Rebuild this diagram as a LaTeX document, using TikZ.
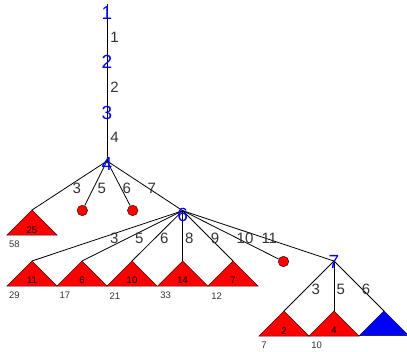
\documentclass[tikz,border=0pt]{standalone}
\usepackage{fontspec}
\setmainfont{Liberation Sans}
\begin{document}
\begin{tikzpicture}[x=1pt,y=-1pt,
  edge/.style={draw=black,line width=0.8pt},
  nlab/.style={text=blue,font=\fontsize{19}{19}\selectfont,inner sep=0pt},
  elab/.style={text=black!80,font=\fontsize{15}{15}\selectfont,inner sep=0pt},
  tlab/.style={text=black,font=\fontsize{9.5}{9.5}\selectfont,inner sep=0pt},
  blab/.style={text=black!80,font=\fontsize{9.5}{9.5}\selectfont,inner sep=0pt},
  redtri/.style={fill=red,draw=black!70!red,line width=0.5pt},
  bluetri/.style={fill=blue,draw=black!70!blue,line width=0.5pt},
  leaf/.style={circle,fill=red,draw=black!70!red,line width=0.5pt,minimum size=10.5pt,inner sep=0pt}]
\useasboundingbox (0,0) rectangle (407,351);
% junctions
\coordinate (j0) at (107,4);
\coordinate (j4) at (107,161);
\coordinate (j6) at (182.7,210.7);
\coordinate (j7) at (334,261);
% child apexes
\coordinate (t25) at (32,210);
\node[leaf] (c1) at (82.3,210.5) {};
\node[leaf] (c2) at (132.7,210.5) {};
\coordinate (t11) at (32,261);
\coordinate (t6) at (82,261);
\coordinate (t10) at (132,261);
\coordinate (t14) at (182.7,261);
\coordinate (t7) at (233,261);
\node[leaf] (c3) at (283.5,261.5) {};
\coordinate (t2) at (284,311);
\coordinate (t4) at (334,311);
\coordinate (tb) at (384,311);
% edges
\draw[edge] (j0) -- (j4);
\draw[edge] (j4) -- (t25);
\draw[edge] (j4) -- (c1);
\draw[edge] (j4) -- (c2);
\draw[edge] (j4) -- (j6);
\foreach \t in {t11,t6,t10,t14,t7} \draw[edge] (j6) -- (\t);
\draw[edge] (j6) -- (c3);
\draw[edge] (j6) -- (j7);
\foreach \t in {t2,t4,tb} \draw[edge] (j7) -- (\t);
% triangles
\foreach \t in {t25,t11,t6,t10,t14,t7,t2,t4}
  \draw[redtri] (\t) -- ++(-25,25) -- ++(50,0) -- cycle;
\draw[bluetri] (tb) -- ++(-24.5,24.5) -- ++(49,0) -- cycle;
% node labels
\node[nlab] (n1) at (107,12.5) {1};
\node[nlab] (n2) at (107,61.7) {2};
\node[nlab] (n3) at (107,113.3) {3};
\node[nlab] (n4) at (107,163.5) {4};
\node[nlab] (n6) at (182.7,215) {6};
\node[nlab] (n7) at (334,262) {7};
% edge labels
\node[elab] at (114.5,37) {1};
\node[elab] at (114.5,87) {2};
\node[elab] at (114.5,137) {4};
\node[elab] at (76.7,188.3) {3};
\node[elab] at (101.7,188.3) {5};
\node[elab] at (126.7,188.3) {6};
\node[elab] at (151.7,188.3) {7};
\node[elab] at (114.3,238.3) {3};
\node[elab] at (139.3,238.3) {5};
\node[elab] at (164.3,238.3) {6};
\node[elab] at (189.3,238.3) {8};
\node[elab] at (215,238.3) {9};
\node[elab] at (245,238.3) {10};
\node[elab] at (269.3,238.3) {11};
\node[elab] at (315.7,289) {3};
\node[elab] at (340.7,289) {5};
\node[elab] at (366,289) {6};
% triangle labels
\node[tlab] at (32,230) {25};
\node[tlab] at (32,280.7) {11};
\node[tlab] at (82,280.7) {6};
\node[tlab] at (132,280.7) {10};
\node[tlab] at (182.7,280.7) {14};
\node[tlab] at (233,280.7) {7};
\node[tlab] at (284,330.7) {2};
\node[tlab] at (334,330.7) {4};
% below labels
\node[blab] at (14.3,244.7) {58};
\node[blab] at (14.3,295.7) {29};
\node[blab] at (65,295.7) {17};
\node[blab] at (115,295.7) {21};
\node[blab] at (165.7,295.7) {33};
\node[blab] at (216.7,295.7) {12};
\node[blab] at (264,345.5) {7};
\node[blab] at (316.7,345.5) {10};
\end{tikzpicture}
\end{document}
